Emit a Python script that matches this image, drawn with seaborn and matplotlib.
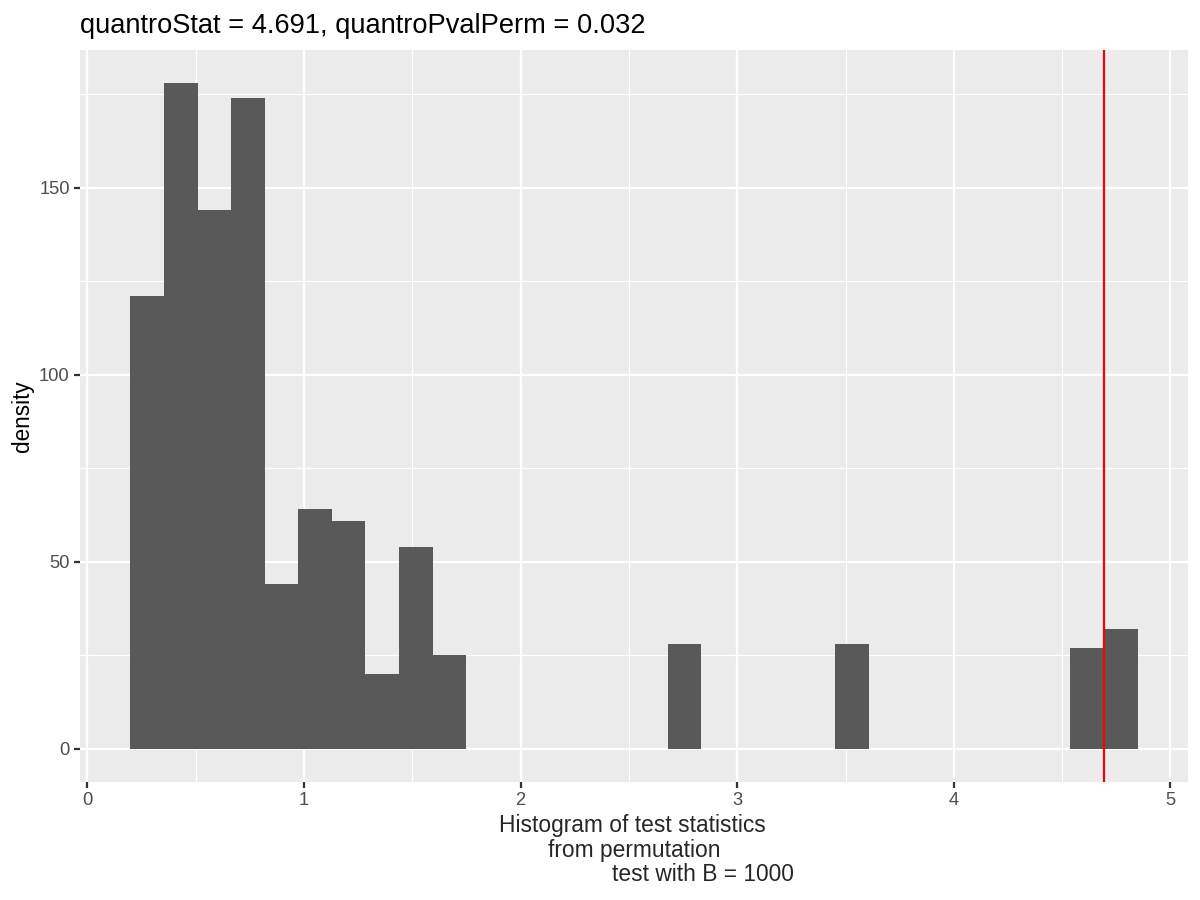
import numpy as np
import pandas as pd
import seaborn as sns
from matplotlib import pyplot as plt
from matplotlib.ticker import MultipleLocator

# permutation test statistics, 30 bins, counts
bin_lo = 0.1985
bin_width = 0.155
counts = [121, 178, 144, 174, 44, 64, 61, 20, 54, 25,
          0, 0, 0, 0, 0, 0, 28, 0, 0, 0,
          0, 28, 0, 0, 0, 0, 0, 0, 27, 32]
quantro_stat = 4.691
pval_perm = 0.032
n_perm = 1000

edges = bin_lo + bin_width * np.arange(len(counts) + 1)
centers = (edges[:-1] + edges[1:]) / 2
df = pd.DataFrame({"stat": centers, "n": counts})

sns.set_style("darkgrid", {"axes.facecolor": "#EBEBEB", "grid.color": "white"})
plt.rcParams["font.family"] = ["Liberation Sans", "DejaVu Sans"]

fig = plt.figure(figsize=(8, 6), dpi=150)
ax = fig.add_axes([80 / 1200, 1 - 782 / 900, 1108 / 1200, 732 / 900])

sns.histplot(data=df, x="stat", weights="n", bins=list(edges),
             color="#595959", alpha=1, linewidth=0, ax=ax)
ax.axvline(quantro_stat, color="red", lw=1.07, zorder=5)

# ggplot style scales
span = edges[-1] - edges[0]
ax.set_xlim(edges[0] - 0.05 * span, edges[-1] + 0.05 * span)
ymax = max(counts)
ax.set_ylim(-0.05 * ymax, ymax * 1.05)
ax.xaxis.set_major_locator(MultipleLocator(1))
ax.xaxis.set_minor_locator(MultipleLocator(0.5))
ax.yaxis.set_major_locator(MultipleLocator(50))
ax.yaxis.set_minor_locator(MultipleLocator(25))
ax.grid(which="major", color="white", lw=1.07)
ax.grid(which="minor", color="white", lw=0.53)
ax.set_axisbelow(True)
for s in ax.spines.values():
    s.set_visible(False)
ax.tick_params(which="major", length=2.75, width=1.07, color="#333333",
               labelsize=8.8, labelcolor="#4D4D4D", pad=2.2,
               bottom=True, left=True)
ax.tick_params(which="minor", length=0, bottom=False, left=False)

ax.set_xlabel("")
ax.set_ylabel("density", fontsize=10.8, color="black", labelpad=2.5)
ax.set_title(f"quantroStat = {quantro_stat}, quantroPvalPerm = {pval_perm}",
             loc="left", fontsize=13.1, color="black", pad=8)

# three-line x label, lines placed as in the original
fig.text(632 / 1200, 1 - 832 / 900, "Histogram of test statistics",
         ha="center", va="baseline", fontsize=10.9)
fig.text(634 / 1200, 1 - 857 / 900, "from permutation",
         ha="center", va="baseline", fontsize=10.9)
fig.text(703 / 1200, 1 - 881 / 900, f"test with B = {n_perm}",
         ha="center", va="baseline", fontsize=10.9)

fig.savefig("out.png", dpi=150)
